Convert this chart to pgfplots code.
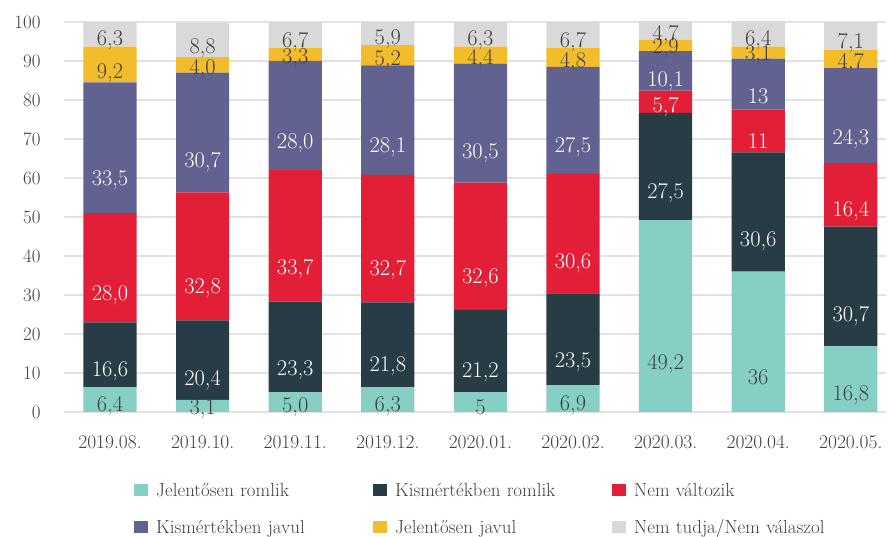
\documentclass[border=0pt]{standalone}
\usepackage{fontspec}
\usepackage{pgfplots}
\usepackage{pgfplotstable}
\pgfplotsset{compat=1.18}
\definecolor{cTeal}{HTML}{86CFC5}
\definecolor{cDark}{HTML}{283C45}
\definecolor{cRed}{HTML}{E21F36}
\definecolor{cPurple}{HTML}{626290}
\definecolor{cYellow}{HTML}{F2BC2B}
\definecolor{cGray}{HTML}{D9D9D9}
\definecolor{cGrid}{HTML}{E2E2E2}
\definecolor{cText}{HTML}{404040}
\pgfplotstableread{
x a la b lb c lc d ld e le f lf
0 6.4 6,4 16.6 16,6 28.0 28,0 33.5 33,5 9.2 9,2 6.3 6,3
1 3.1 3,1 20.4 20,4 32.8 32,8 30.7 30,7 4.0 4,0 8.8 8,8
2 5.0 5,0 23.3 23,3 33.7 33,7 28.0 28,0 3.3 3,3 6.7 6,7
3 6.3 6,3 21.8 21,8 32.7 32,7 28.1 28,1 5.2 5,2 5.9 5,9
4 5.0 5 21.2 21,2 32.6 32,6 30.5 30,5 4.4 4,4 6.3 6,3
5 6.9 6,9 23.5 23,5 30.6 30,6 27.5 27,5 4.8 4,8 6.7 6,7
6 49.2 49,2 27.5 27,5 5.7 5,7 10.1 10,1 2.9 2,9 4.7 4,7
7 36.0 36 30.6 30,6 11.0 11 13.0 13 3.1 3,1 6.4 6,4
8 16.8 16,8 30.7 30,7 16.4 16,4 24.3 24,3 4.7 4,7 7.1 7,1
}\data
\begin{document}
\begin{tikzpicture}
\useasboundingbox (0,0) rectangle (891bp,537bp);
\begin{axis}[
  at={(64bp,125bp)}, anchor=south west,
  scale only axis, width=822bp, height=390bp,
  clip=false,
  ybar stacked, bar width=0.575,
  xmin=-0.497, xmax=8.38, ymin=0, ymax=100,
  xtick={0,...,8},
  xticklabels={2019.08.,2019.10.,2019.11.,2019.12.,2020.01.,2020.02.,2020.03.,2020.04.,2020.05.},
  ytick={0,10,...,100},
  ymajorgrids, grid style={draw=cGrid, line width=1.5bp},
  axis line style={draw=none}, major tick length=0pt,
  /pgf/number format/assume math mode=true,
  yticklabel style={font=\fontsize{19}{22}\selectfont, text=cText, xshift=-20bp},
  xticklabel style={font=\fontsize{19.5}{22}\selectfont, text=cText, yshift=-20bp},
  point meta=explicit symbolic,
  nodes near coords,
  visualization depends on={rawy \as \rawy},
  every node near coord/.append style={anchor=center, inner sep=0pt,
     font=\fontsize{22.5}{24}\selectfont, shift={(axis direction cs:0,-\rawy/4)}},
  legend columns=3,
  legend image code/.code={\fill[#1] (0bp,-6bp) rectangle (14bp,6bp);},
  legend style={draw=none, fill=none, inner sep=0pt,
     at={(axis description cs:0.0852,-0.1526)}, anchor=north west,
     font=\fontsize{19}{22}\selectfont, text=cText,
     nodes={inner xsep=8bp, inner ysep=0pt, text width=209bp, align=left, minimum height=37bp},
     cells={anchor=west}},
]
\addplot[fill=cTeal, draw=none, every node near coord/.append style={text=cText}] table[x=x, y=a, meta=la] {\data};
\addplot[fill=cDark, draw=none, every node near coord/.append style={text=white}] table[x=x, y=b, meta=lb] {\data};
\addplot[fill=cRed, draw=none, every node near coord/.append style={text=white}] table[x=x, y=c, meta=lc] {\data};
\addplot[fill=cPurple, draw=none, every node near coord/.append style={text=white}] table[x=x, y=d, meta=ld] {\data};
\addplot[fill=cYellow, draw=none, every node near coord/.append style={text=cText}] table[x=x, y=e, meta=le] {\data};
\addplot[fill=cGray, draw=none, every node near coord/.append style={text=cText}] table[x=x, y=f, meta=lf] {\data};
\legend{Jelentősen romlik, Kismértékben romlik, Nem változik, Kismértékben javul, Jelentősen javul, Nem tudja/Nem válaszol}
\end{axis}
\end{tikzpicture}
\end{document}
